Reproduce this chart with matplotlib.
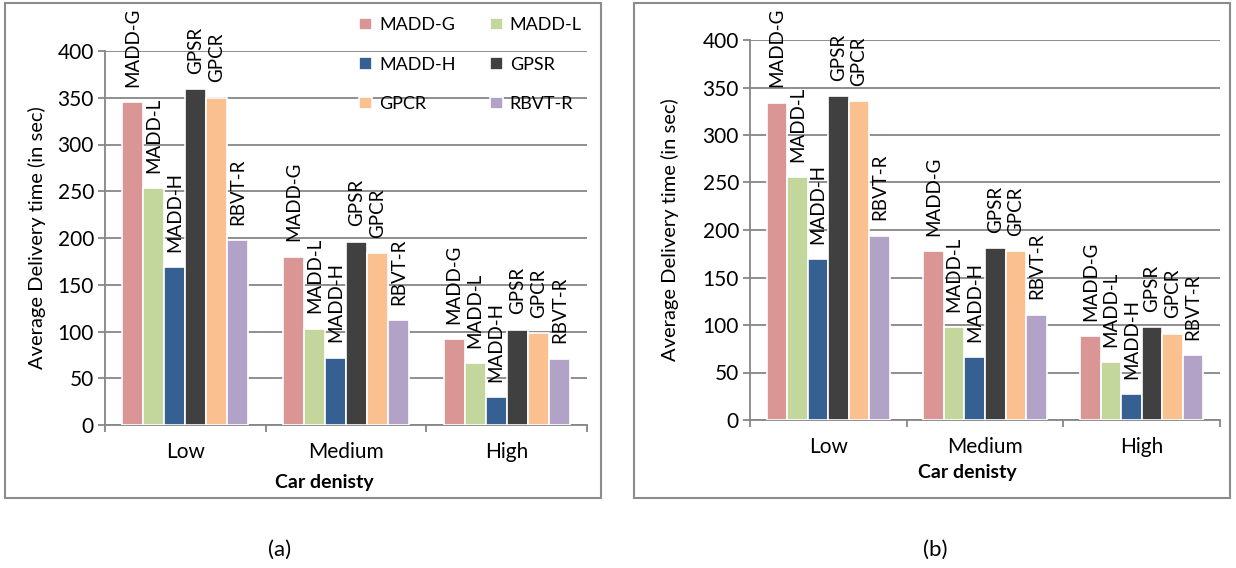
import numpy as np
import matplotlib
matplotlib.use("Agg")
import matplotlib.pyplot as plt
from matplotlib.patches import Rectangle

plt.rcParams['font.family'] = ['Lato', 'DejaVu Sans']

# -----------------------------
# Data
# -----------------------------
densities = ["Low", "Medium", "High"]
protocols = ["MADD-G", "MADD-L", "MADD-H", "GPSR", "GPCR", "RBVT-R"]
colors = ["#D99694", "#C3D69B", "#376092", "#404040", "#FAC090", "#B3A2C7"]

# panel (a)
madd_g_a = [345, 180, 92]
madd_l_a = [253, 103, 66]
madd_h_a = [169, 72, 30]
gpsr_a = [359, 196, 102]
gpcr_a = [350, 184, 98]
rbvt_a = [198, 112, 71]

# panel (b)
madd_g_b = [334, 178, 88]
madd_l_b = [256, 98, 61]
madd_h_b = [169, 66, 27]
gpsr_b = [341, 181, 98]
gpcr_b = [336, 178, 91]
rbvt_b = [194, 111, 68]

yticks = [0, 50, 100, 150, 200, 250, 300, 350, 400]

W, H = 1236, 568
fig = plt.figure(figsize=(W / 100, H / 100), dpi=100)

GRID = "#868686"


def px(x0, y_top, x1, y_bot):
    # pixel box -> figure fraction [left, bottom, width, height]
    return [x0 / W, 1 - y_bot / H, (x1 - x0) / W, (y_bot - y_top) / H]


def panel(rect, series, ylabel, xlab_x, xlab_y):
    ax = fig.add_axes(rect)
    x = np.arange(len(densities))
    step = 0.131
    bars = []
    for i, vals in enumerate(series):
        b = ax.bar(x + (i - 2.5) * step, vals, width=step, color=colors[i],
                   edgecolor="white", linewidth=1.2, zorder=3, label=protocols[i])
        bars.append(b)
        for xi, v in zip(x + (i - 2.5) * step, vals):
            ax.annotate(protocols[i], (xi, v), xytext=(0, 11),
                        textcoords="offset points", rotation=90,
                        ha="center", va="bottom", fontsize=13.5,
                        annotation_clip=False, zorder=4)
    ax.set_xlim(-0.5, 2.5)
    ax.set_ylim(0, 400)
    ax.set_yticks(yticks)
    ax.yaxis.grid(True, color=GRID, linewidth=1.3, zorder=0)
    ax.set_axisbelow(True)
    ax.set_xticks([-0.5, 0.5, 1.5, 2.5])
    ax.set_xticklabels([])
    ax.set_xticks(x, minor=True)
    ax.set_xticklabels(densities, minor=True, fontsize=15)
    ax.tick_params(axis="x", which="major", length=5, width=1.3, color=GRID)
    ax.tick_params(axis="x", which="minor", length=0, pad=12)
    ax.tick_params(axis="y", length=5, width=1.3, color=GRID, labelsize=15, pad=3)
    for s in ["top", "right"]:
        ax.spines[s].set_visible(False)
    for s in ["left", "bottom"]:
        ax.spines[s].set_color(GRID)
        ax.spines[s].set_linewidth(1.3)
    ax.set_ylabel(ylabel, fontsize=14.5)
    ax.set_xlabel("Car denisty", fontsize=14, fontweight="bold")
    ax.xaxis.set_label_coords(xlab_x, xlab_y)
    return ax, bars


ax1, bars1 = panel(px(105, 51, 587, 425),
                   [madd_g_a, madd_l_a, madd_h_a, gpsr_a, gpcr_a, rbvt_a],
                   "Average Delivery time (in sec)", 0.455, -0.13)
ax1.yaxis.set_label_coords(-0.122, 0.5)

ax2, bars2 = panel(px(750, 40, 1220, 420),
                   [madd_g_b, madd_l_b, madd_h_b, gpsr_b, gpcr_b, rbvt_b],
                   "Average Delivery time (in sec)", 0.462, -0.115)
ax2.yaxis.set_label_coords(-0.15, 0.5)

# legend in panel (a), rows: G L / H GPSR / GPCR RBVT
order = [0, 2, 4, 1, 3, 5]
leg = fig.legend([bars1[i] for i in order], [protocols[i] for i in order],
                 ncol=2, frameon=False, fontsize=13,
                 loc="upper left", bbox_to_anchor=(343 / W, 1 - 1 / H),
                 handlelength=0.7, handleheight=0.7, handletextpad=0.4,
                 labelspacing=1.3, columnspacing=1.9)

# panel borders
for x0, x1 in [(5, 601), (634, 1230)]:
    fig.patches.append(Rectangle((x0 / W, 1 - 498 / H), (x1 - x0) / W, 495 / H,
                                 transform=fig.transFigure, fill=False,
                                 edgecolor="#8c8c8c", linewidth=1.5))

fig.text(280 / W, 1 - 550 / H, "(a)", ha="center", va="center", fontsize=16)
fig.text(935 / W, 1 - 550 / H, "(b)", ha="center", va="center", fontsize=16)

fig.savefig("out.png", dpi=100)
